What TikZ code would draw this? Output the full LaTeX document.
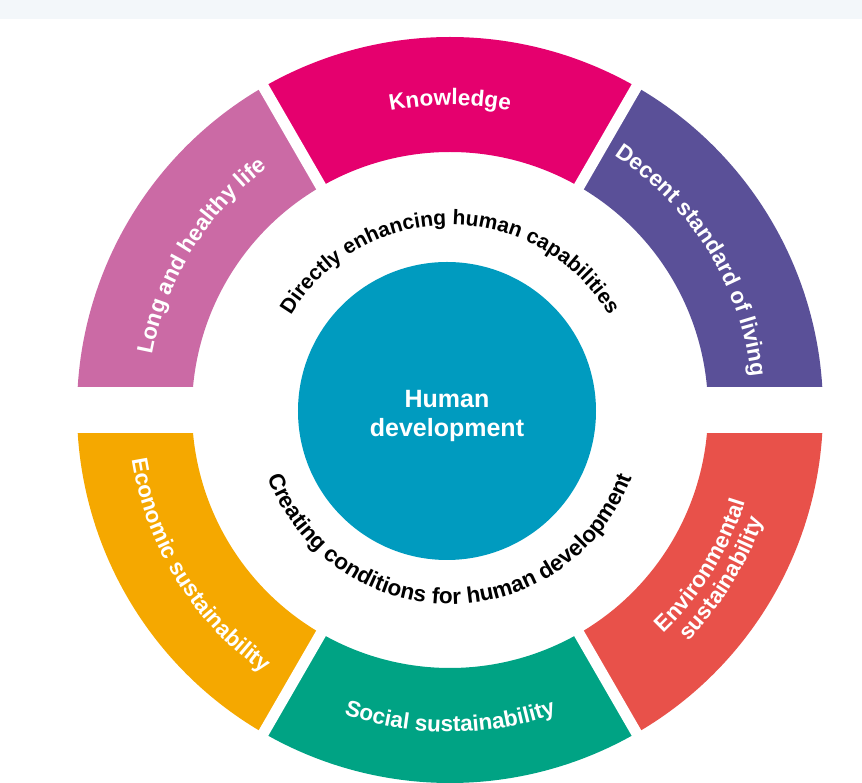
\documentclass[tikz,border=0pt]{standalone}
\usepackage{fontspec}
\setsansfont{Liberation Sans}
\usetikzlibrary{decorations.text}

\definecolor{lifepink}{RGB}{203,106,165}
\definecolor{knowmagenta}{RGB}{229,0,110}
\definecolor{livingpurple}{RGB}{90,80,152}
\definecolor{econorange}{RGB}{245,168,0}
\definecolor{socialgreen}{RGB}{0,163,132}
\definecolor{envred}{RGB}{232,81,74}
\definecolor{hdblue}{RGB}{0,155,191}
\definecolor{stripgrey}{RGB}{243,247,250}

\newcommand{\seglabelfont}{\sffamily\bfseries\fontsize{22.5}{26}\selectfont\color{white}}
\newcommand{\ringlabelfont}{\sffamily\bfseries\fontsize{21}{25}\selectfont\color{black}}
\newcommand{\lowringfont}{\sffamily\bfseries\fontsize{22.5}{26}\selectfont\color{black}}
\newcommand{\ringseg}[3]{\fill[#1] (#2:258) arc[start angle=#2, end angle=#3, radius=258] -- (#3:373) arc[start angle=#3, end angle=#2, radius=373] -- cycle;}

\begin{document}
\begin{tikzpicture}[x=1pt, y=1pt,
  seglabel/.style={decorate, decoration={text along path, text align=center, text={|\seglabelfont|#1}}},
  ringlabel/.style={decorate, decoration={text along path, text align=center, text={|\ringlabelfont|#1}}},
  lowlabel/.style={decorate, decoration={text along path, text align=center, text={|\lowringfont|#1}}},
  gap/.style={white, line width=11pt}]
  \useasboundingbox (-450,-373) rectangle (412,410);
  \fill[stripgrey] (-450,390.5) rectangle (412,410);

  \ringseg{lifepink}{120}{180}
  \ringseg{knowmagenta}{60}{120}
  \ringseg{livingpurple}{0}{60}
  \ringseg{econorange}{180}{240}
  \ringseg{socialgreen}{240}{300}
  \ringseg{envred}{300}{360}

  \draw[gap] (0,0) -- (60:380);
  \draw[gap] (0,0) -- (120:380);
  \draw[gap] (0,0) -- (240:380);
  \draw[gap] (0,0) -- (300:380);
  \fill[white] (-380,-22.7) rectangle (380,22.5);

  \node[circle, fill=hdblue, minimum size=298pt, inner sep=0pt] (core) at (-3,-1) {};
  \node[align=center, text=white, font=\sffamily\bfseries\fontsize{25}{28.5}\selectfont] (hdlabel) at (-3,-6) {Human\\development};

  \path[seglabel=Long and healthy life] (175.5:303) arc[start angle=175.5, end angle=121, radius=303];
  \path[seglabel=Knowledge] (119:305) arc[start angle=119, end angle=61, radius=305];
  \path[seglabel=Decent standard of living] (59:303) arc[start angle=59, end angle=4.5, radius=303];
  \path[seglabel=Economic sustainability] (184.5:322) arc[start angle=184.5, end angle=239, radius=322];
  \path[seglabel=Social sustainability] (241:322) arc[start angle=241, end angle=299, radius=322];
  \path[seglabel=Environmental] (301:309) arc[start angle=301, end angle=355.5, radius=309];
  \path[seglabel=sustainability] (301:332) arc[start angle=301, end angle=355.5, radius=332];

  \path[ringlabel=Directly enhancing human capabilities] (170:185) arc[start angle=170, end angle=10, radius=185];
  \path[lowlabel=Creating conditions for human development] (188:194) arc[start angle=188, end angle=352, radius=194];
\end{tikzpicture}
\end{document}
